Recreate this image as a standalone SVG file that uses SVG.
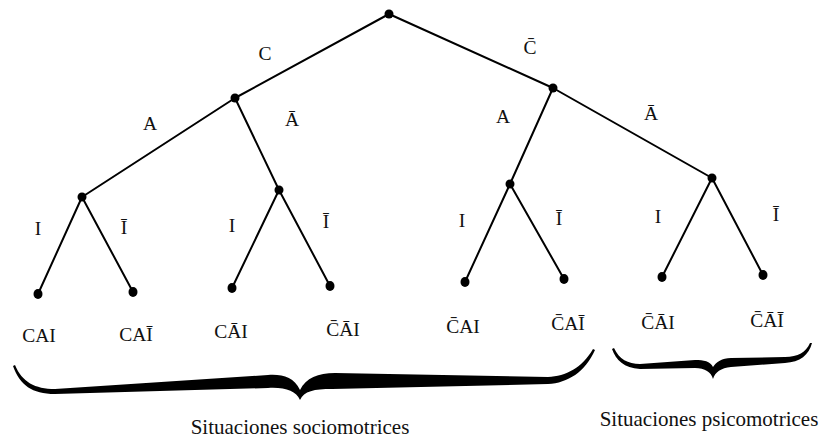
<svg xmlns="http://www.w3.org/2000/svg" width="822" height="439" viewBox="0 0 822 439">
<style>
  .edge { stroke: #000; stroke-width: 2; fill: none; stroke-linecap: round; }
  .dot { fill: #000; }
  .lbl { font-family: "Liberation Serif", "Times New Roman", serif; font-size: 19.5px; fill: #111; text-anchor: middle; }
  .cap { font-family: "Liberation Serif", "Times New Roman", serif; font-size: 21px; fill: #111; text-anchor: middle; }
  .brace { fill: #000; }
</style>
<rect width="822" height="439" fill="#fff"/>
<g id="connectors">
  <line class="edge" x1="389" y1="14" x2="235" y2="98"/>
  <line class="edge" x1="389" y1="14" x2="553" y2="88"/>
  <line class="edge" x1="235" y1="98" x2="82" y2="197"/>
  <line class="edge" x1="235" y1="98" x2="279" y2="190"/>
  <line class="edge" x1="553" y1="88" x2="510" y2="184"/>
  <line class="edge" x1="553" y1="88" x2="712" y2="178"/>
  <line class="edge" x1="82" y1="197" x2="38" y2="294"/>
  <line class="edge" x1="82" y1="197" x2="133" y2="292"/>
  <line class="edge" x1="279" y1="190" x2="232" y2="288"/>
  <line class="edge" x1="279" y1="190" x2="330" y2="286"/>
  <line class="edge" x1="510" y1="184" x2="465" y2="282"/>
  <line class="edge" x1="510" y1="184" x2="564" y2="279"/>
  <line class="edge" x1="712" y1="178" x2="662" y2="277"/>
  <line class="edge" x1="712" y1="178" x2="763" y2="275"/>
  <text class="lbl" x="265" y="60">C</text>
  <text class="lbl" x="530" y="54">C&#x304;</text>
  <text class="lbl" x="150" y="130">A</text>
  <text class="lbl" x="292" y="126">&#x100;</text>
  <text class="lbl" x="503" y="123">A</text>
  <text class="lbl" x="651" y="120">&#x100;</text>
  <text class="lbl" x="38" y="235">I</text>
  <text class="lbl" x="124" y="234">&#x12A;</text>
  <text class="lbl" x="232" y="232">I</text>
  <text class="lbl" x="326" y="228">&#x12A;</text>
  <text class="lbl" x="462" y="227">I</text>
  <text class="lbl" x="559" y="225">&#x12A;</text>
  <text class="lbl" x="658" y="223">I</text>
  <text class="lbl" x="776" y="221">&#x12A;</text>
</g>
<g id="n-root"><circle class="dot" cx="389" cy="14" r="4.5"/></g>
<g id="n-C"><circle class="dot" cx="235" cy="98" r="4.5"/></g>
<g id="n-notC"><circle class="dot" cx="553" cy="88" r="4.5"/></g>
<g id="n-CA"><circle class="dot" cx="82" cy="197" r="4.5"/></g>
<g id="n-CnotA"><circle class="dot" cx="279" cy="190" r="4.5"/></g>
<g id="n-notCA"><circle class="dot" cx="510" cy="184" r="4.5"/></g>
<g id="n-notCnotA"><circle class="dot" cx="712" cy="178" r="4.5"/></g>
<g id="leaf1"><ellipse class="dot" cx="38" cy="294" rx="4.5" ry="5"/><text class="lbl" x="39" y="342">CAI</text></g>
<g id="leaf2"><ellipse class="dot" cx="133" cy="292" rx="4.5" ry="5"/><text class="lbl" x="136" y="341">CA&#x12A;</text></g>
<g id="leaf3"><ellipse class="dot" cx="232" cy="288" rx="4.5" ry="5"/><text class="lbl" x="231" y="338">C&#x100;I</text></g>
<g id="leaf4"><ellipse class="dot" cx="330" cy="286" rx="4.5" ry="5"/><text class="lbl" x="343" y="336">C&#x304;&#x100;I</text></g>
<g id="leaf5"><ellipse class="dot" cx="465" cy="282" rx="4.5" ry="5"/><text class="lbl" x="463" y="333">C&#x304;AI</text></g>
<g id="leaf6"><ellipse class="dot" cx="564" cy="279" rx="4.5" ry="5"/><text class="lbl" x="568" y="330">C&#x304;A&#x12A;</text></g>
<g id="leaf7"><ellipse class="dot" cx="662" cy="277" rx="4.5" ry="5"/><text class="lbl" x="658" y="329">C&#x304;&#x100;I</text></g>
<g id="leaf8"><ellipse class="dot" cx="763" cy="275" rx="4.5" ry="5"/><text class="lbl" x="767" y="327">C&#x304;&#x100;&#x12A;</text></g>
<g id="brace-socio">
  <path class="brace" d="M13,366 C20,385 32,394 55,394 L268,388 C285,387 296,391 300,400 C304,391 314,389 332,389 L548,384 C568,383 585,372 595,350 L593,349 C582,368 566,376 548,377 L335,373 C318,373 306,378 300,390 C294,377 282,374 268,375 L55,389 C35,389 22,382 15,365 Z"/>
  <text class="cap" x="300" y="434">Situaciones sociomotrices</text>
</g>
<g id="brace-psico">
  <path class="brace" d="M612,349 C616,360 624,368 640,369 L695,368 C705,368 711,372 713,379 C715,372 721,368 731,367 L785,363 C800,362 809,355 812,343 L810,343 C806,352 798,357 785,357 L731,358 C722,358 716,362 713,367 C710,361 704,360 695,360 L640,364 C628,364 619,359 614,348 Z"/>
  <text class="cap" x="709" y="426">Situaciones psicomotrices</text>
</g>
</svg>
